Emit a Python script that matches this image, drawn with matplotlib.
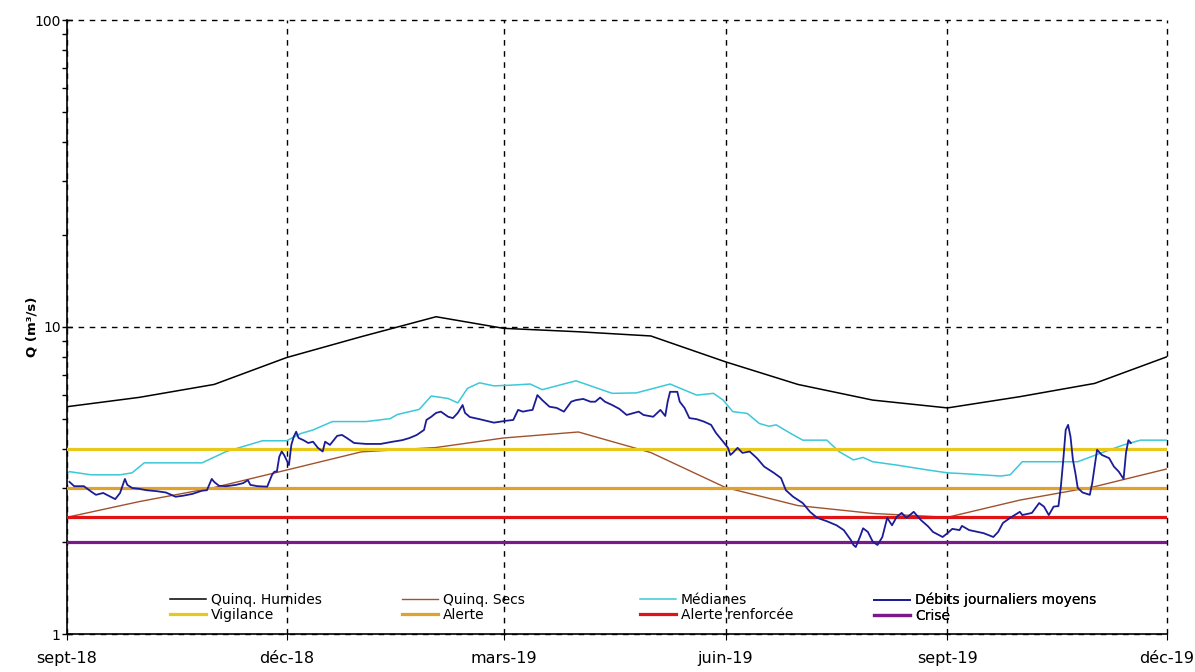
import numpy as np
import pandas as pd
import matplotlib
matplotlib.use('Agg')
import matplotlib.pyplot as plt
from matplotlib.ticker import FixedLocator, LogLocator, NullFormatter

# Données
debut = pd.Timestamp('2018-09-01')
fin = pd.Timestamp('2019-12-01')

mois = pd.date_range('2018-09-01', '2019-12-01', freq='MS')
quinq_humides = [5.5, 5.9, 6.5, 7.95, 9.3, 10.8, 9.9, 9.65, 9.35, 7.7,
                 6.5, 5.78, 5.45, 5.93, 6.55, 8.0]
quinq_secs = [2.4, 2.7, 3.0, 3.42, 3.92, 4.05, 4.35, 4.55, 3.9, 3.0,
              2.62, 2.47, 2.4, 2.73, 3.02, 3.45]

jours_med = [0, 1, 10, 22, 27, 32, 56, 66, 81, 91, 97, 102, 110, 124, 134,
             137, 146, 151, 158, 162, 166, 171, 177, 185, 192, 197, 211, 226,
             236, 250, 261, 268, 272, 276, 282, 287, 291, 294, 300, 305, 315,
             320, 326, 330, 334, 344, 357, 365, 374, 387, 391, 396, 419, 428,
             438, 445, 456]
medianes = [3.34, 3.38, 3.30, 3.30, 3.35, 3.61, 3.61, 3.93, 4.26, 4.26, 4.50,
            4.62, 4.92, 4.92, 5.03, 5.19, 5.39, 5.96, 5.85, 5.66, 6.31, 6.58,
            6.43, 6.47, 6.52, 6.25, 6.68, 6.08, 6.10, 6.52, 6.00, 6.08, 5.78,
            5.30, 5.23, 4.85, 4.75, 4.80, 4.50, 4.28, 4.28, 3.93, 3.69, 3.76,
            3.64, 3.55, 3.42, 3.35, 3.32, 3.27, 3.30, 3.64, 3.64, 3.87, 4.13,
            4.28, 4.28]

jours_deb = [1, 3, 7, 10, 12, 15, 18, 20, 22, 24, 25, 27, 30, 33, 37, 41, 45,
             48, 52, 56, 58, 60, 61, 63, 66, 70, 73, 75, 76, 79, 83, 85, 86,
             87, 88, 89, 90, 92, 93, 94, 95, 96, 98, 100, 102, 104, 106, 107,
             109, 112, 114, 116, 119, 124, 130, 135, 139, 142, 145, 148, 149,
             151, 153, 155, 158, 160, 162, 164, 165, 167, 171, 177, 182, 185,
             187, 189, 191, 193, 195, 197, 200, 203, 206, 209, 211, 214, 217,
             219, 221, 223, 226, 229, 232, 235, 237, 239, 243, 246, 248, 249,
             250, 253, 254, 256, 258, 261, 264, 267, 269, 272, 274, 275, 276,
             278, 280, 283, 286, 289, 293, 296, 298, 301, 305, 308, 311, 315,
             319, 322, 325, 326, 327, 329, 330, 332, 334, 336, 338, 340, 342,
             344, 346, 348, 351, 354, 357, 359, 363, 365, 367, 370, 371, 374,
             380, 384, 386, 388, 391, 395, 396, 400, 403, 405, 407, 409, 411,
             412, 413, 414, 415, 416, 417, 418, 419, 421, 424, 425, 427, 429,
             432, 434, 436, 438, 439, 440, 441]
debits = [3.13, 3.03, 3.03, 2.91, 2.84, 2.88, 2.80, 2.75, 2.88, 3.20, 3.06,
          2.99, 2.97, 2.94, 2.92, 2.89, 2.80, 2.82, 2.86, 2.93, 2.94, 3.20,
          3.13, 3.04, 3.03, 3.06, 3.10, 3.17, 3.06, 3.03, 3.02, 3.30, 3.38,
          3.38, 3.78, 3.93, 3.83, 3.55, 4.13, 4.39, 4.56, 4.35, 4.28, 4.19,
          4.23, 4.04, 3.93, 4.23, 4.13, 4.42, 4.45, 4.35, 4.19, 4.16, 4.16,
          4.23, 4.28, 4.35, 4.45, 4.62, 4.98, 5.10, 5.25, 5.30, 5.10, 5.05,
          5.25, 5.57, 5.25, 5.09, 5.01, 4.88, 4.95, 4.98, 5.37, 5.30, 5.34,
          5.37, 6.00, 5.78, 5.50, 5.45, 5.30, 5.71, 5.78, 5.83, 5.71, 5.71,
          5.89, 5.71, 5.57, 5.41, 5.17, 5.25, 5.30, 5.17, 5.10, 5.37, 5.13,
          5.71, 6.15, 6.15, 5.71, 5.45, 5.05, 5.01, 4.92, 4.80, 4.52, 4.23,
          4.04, 3.83, 3.89, 4.04, 3.89, 3.93, 3.74, 3.51, 3.35, 3.22, 2.94,
          2.80, 2.67, 2.50, 2.39, 2.33, 2.26, 2.18, 2.02, 1.95, 1.92, 2.10,
          2.21, 2.15, 2.00, 1.95, 2.07, 2.39, 2.26, 2.41, 2.48, 2.39, 2.50,
          2.35, 2.24, 2.15, 2.07, 2.13, 2.20, 2.18, 2.25, 2.18, 2.13, 2.07,
          2.15, 2.30, 2.39, 2.50, 2.44, 2.48, 2.67, 2.60, 2.44, 2.60, 2.61,
          3.02, 3.69, 4.62, 4.80, 4.39, 3.69, 3.35, 2.99, 2.89, 2.84, 3.10,
          3.98, 3.83, 3.74, 3.51, 3.38, 3.20, 3.89, 4.28, 4.19]

seuils = {'Vigilance': 4.0, 'Alerte': 3.0, 'Alerte renforcée': 2.4, 'Crise': 2.0}
couleurs_seuils = {'Vigilance': '#E8C81A', 'Alerte': '#E0A228',
                   'Alerte renforcée': '#E01414', 'Crise': '#7A1A8A'}

ticks_x = pd.date_range('2018-09-01', '2019-12-01', freq='3MS')
labels_x = ['sept-18', 'déc-18', 'mars-19', 'juin-19', 'sept-19', 'déc-19']

dates_med = debut + pd.to_timedelta(jours_med, unit='D')
dates_deb = debut + pd.to_timedelta(jours_deb, unit='D')

fig = plt.figure(figsize=(11.95, 6.72), dpi=100)
ax = fig.add_axes([67/1195, 1 - 634/672, 1100/1195, 614/672])

h_qh, = ax.plot(mois, quinq_humides, color='black', lw=1.1, zorder=4,
                label='Quinq. Humides')
h_qs, = ax.plot(mois, quinq_secs, color='#A0522D', lw=1.0, zorder=2,
                label='Quinq. Secs')
h_med, = ax.plot(dates_med, medianes, color='#3CC8D8', lw=1.1, zorder=2,
                 label='Médianes')
h_deb, = ax.plot(dates_deb, debits, color='#1C1C96', lw=1.3, zorder=4,
                 label='Débits journaliers moyens')

h_seuils = []
for nom, val in seuils.items():
    h = ax.axhline(val, color=couleurs_seuils[nom], lw=2.3, zorder=3, label=nom)
    h_seuils.append(h)

ax.set_yscale('log')
ax.set_ylim(1, 100)
ax.set_xlim(debut, fin)

ax.yaxis.set_major_locator(FixedLocator([1, 10, 100]))
ax.set_yticklabels(['1', '10', '100'])
ax.yaxis.set_minor_locator(LogLocator(base=10, subs=np.arange(2, 10)))
ax.yaxis.set_minor_formatter(NullFormatter())
ax.tick_params(axis='y', which='major', direction='inout', length=7,
               width=1, labelsize=10, pad=1)
ax.tick_params(axis='y', which='minor', direction='out', length=3.5, width=1)

ax.xaxis.set_major_locator(FixedLocator(matplotlib.dates.date2num(ticks_x)))
ax.set_xticklabels(labels_x)
ax.tick_params(axis='x', which='major', direction='out', length=4,
               labelsize=11.5, pad=8)

ax.grid(True, which='major', color='black', linestyle=(0, (4, 4)), lw=1)
ax.set_axisbelow(True)
for ligne in ax.get_xgridlines() + ax.get_ygridlines():
    ligne.set_clip_on(False)

for s in ['top', 'right']:
    ax.spines[s].set_visible(False)
for s in ['left', 'bottom']:
    ax.spines[s].set_linewidth(1.2)

ax.set_ylabel('Q (m³/s)', fontsize=9.5, fontweight='bold')
ax.yaxis.set_label_coords(-0.026, 0.5)

# légende en 4 colonnes régulièrement espacées
colonnes = [(h_qh, h_seuils[0]), (h_qs, h_seuils[1]),
            (h_med, h_seuils[2]), (h_deb, h_seuils[3])]
pos_x = [0.0936, 0.3045, 0.521, 0.7336]
for hs, px in zip(colonnes, pos_x):
    leg = ax.legend(handles=list(hs), loc='upper left',
                    bbox_to_anchor=(px, 0.067), frameon=False, fontsize=10,
                    borderpad=0, borderaxespad=0, handlelength=2.6,
                    handletextpad=0.35, labelspacing=0.1)
    ax.add_artist(leg)

fig.savefig('out.png', dpi=100)
